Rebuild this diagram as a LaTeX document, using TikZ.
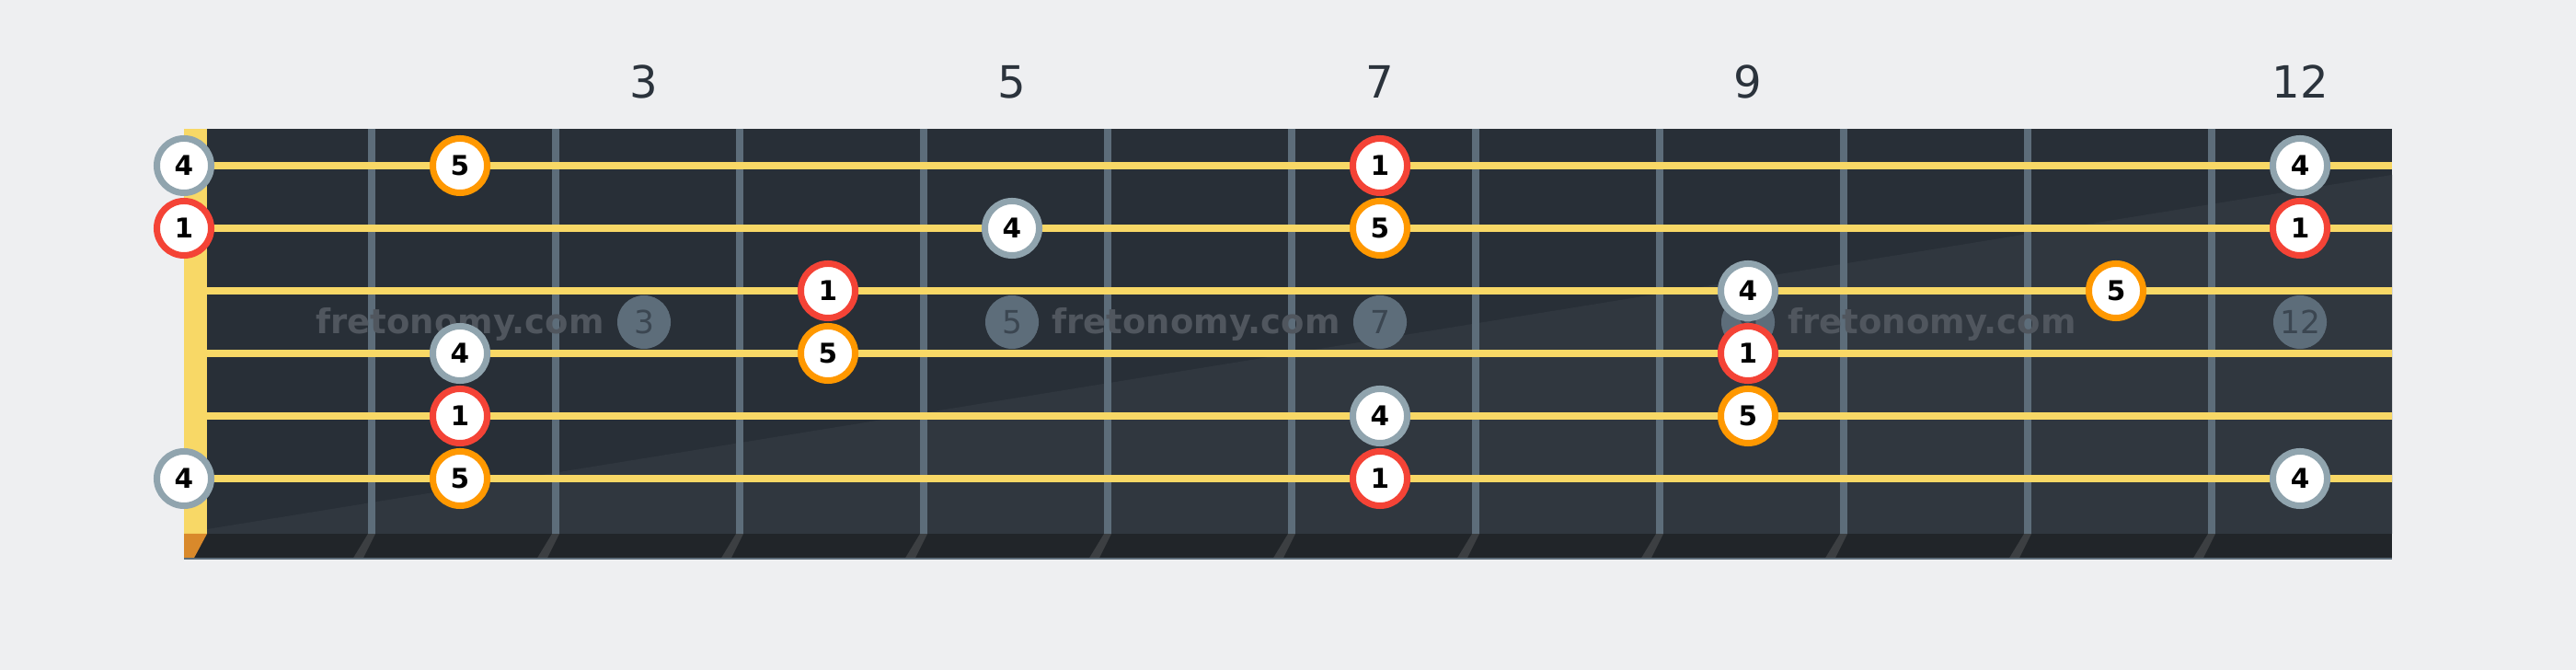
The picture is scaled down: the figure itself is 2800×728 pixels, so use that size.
\documentclass[tikz,border=0pt]{standalone}
\usepackage{fontspec}
\setmainfont{DejaVu Sans}
\usepackage{xcolor}
\usepackage{tikz}

\definecolor{bgpage}{HTML}{EEEFF1}
\definecolor{board}{HTML}{282F37}
\definecolor{boardlight}{HTML}{30373F}
\definecolor{boardedge}{HTML}{212529}
\definecolor{fretcol}{HTML}{5D6D7A}
\definecolor{shadowcol}{HTML}{3C3F42}
\definecolor{stringcol}{HTML}{F8D866}
\definecolor{nutend}{HTML}{D9892B}
\definecolor{labelcol}{HTML}{2B333C}
\definecolor{marktext}{HTML}{3B4651}
\definecolor{watercol}{HTML}{50565E}
\definecolor{rootcol}{HTML}{F44336}
\definecolor{fifthcol}{HTML}{FF9800}
\definecolor{fourthcol}{HTML}{90A4AE}

\tikzset{
	scalenote/.style={circle,draw=#1,fill=white,line width=0.07cm,minimum size=0.59cm,inner sep=0pt,
		font=\bfseries\fontsize{8.4}{9}\selectfont},
	inlay/.style={circle,fill=fretcol,minimum size=0.58cm,inner sep=0pt,text=marktext,
		font=\fontsize{9.8}{11}\selectfont},
	fretnum/.style={text=labelcol,inner sep=0pt,font=\fontsize{13.7}{16}\selectfont},
	watermark/.style={text=watercol,anchor=base,inner sep=0pt,font=\bfseries\fontsize{10.5}{12}\selectfont},
	fretwire/.style={fretcol,line width=0.08cm},
	guitarstring/.style={stringcol,line width=0.08cm}
}

\begin{document}
\begin{tikzpicture}[x=0.01cm,y=-0.01cm]
		\fill[bgpage] (0,0) rectangle (2800,728);
		\useasboundingbox (0,0) rectangle (2800,728);
		%
		% board, shading and nut
		\fill[board] (200,140) rectangle (2600,580);
		\fill[boardlight] (225,575) -- (2600,190) -- (2600,580) -- (225,580) -- cycle;
		\fill[stringcol] (200,140) rectangle (225,580);
		\fill[boardedge] (200,580) rectangle (2600,608);
		\fill[nutend] (200,580) -- (225,580) -- (210,608) -- (200,608) -- cycle;
		\fill[shadowcol] (400,580) -- (408,580) -- (394,608) -- (383,608) -- cycle
			(600,580) -- (608,580) -- (594,608) -- (583,608) -- cycle
			(800,580) -- (808,580) -- (794,608) -- (783,608) -- cycle
			(1000,580) -- (1008,580) -- (994,608) -- (983,608) -- cycle
			(1200,580) -- (1208,580) -- (1194,608) -- (1183,608) -- cycle
			(1400,580) -- (1408,580) -- (1394,608) -- (1383,608) -- cycle
			(1600,580) -- (1608,580) -- (1594,608) -- (1583,608) -- cycle
			(1800,580) -- (1808,580) -- (1794,608) -- (1783,608) -- cycle
			(2000,580) -- (2008,580) -- (1994,608) -- (1983,608) -- cycle
			(2200,580) -- (2208,580) -- (2194,608) -- (2183,608) -- cycle
			(2400,580) -- (2408,580) -- (2394,608) -- (2383,608) -- cycle;
		\draw[fretcol,line width=0.02cm] (200,607) -- (2600,607);
		%
		% frets
		\draw[fretwire] (404,140) -- (404,580) (604,140) -- (604,580) (804,140) -- (804,580)
			(1004,140) -- (1004,580) (1204,140) -- (1204,580) (1404,140) -- (1404,580)
			(1604,140) -- (1604,580) (1804,140) -- (1804,580) (2004,140) -- (2004,580)
			(2204,140) -- (2204,580) (2404,140) -- (2404,580);
		%
		% inlays and watermark
		\node[inlay] (dot3) at (700,350) {3};
		\node[inlay] (dot5) at (1100,350) {5};
		\node[inlay] (dot7) at (1500,350) {7};
		\node[inlay] (dot9) at (1900,350) {9};
		\node[inlay] (dot12) at (2500,350) {12};
		\node[watermark] (wmA) at (500,363) {fretonomy.com};
		\node[watermark] (wmB) at (1300,363) {fretonomy.com};
		\node[watermark] (wmC) at (2100,363) {fretonomy.com};
		%
		% strings
		\draw[guitarstring] (225,180) -- (2600,180) (225,248) -- (2600,248) (225,316) -- (2600,316)
			(225,384) -- (2600,384) (225,452) -- (2600,452) (225,520) -- (2600,520);
		%
		% fret numbers
		\node[fretnum] (num3) at (700,89) {3};
		\node[fretnum] (num5) at (1100,89) {5};
		\node[fretnum] (num7) at (1500,89) {7};
		\node[fretnum] (num9) at (1900,89) {9};
		\node[fretnum] (num12) at (2500,89) {12};
		%
		% scale notes
		\node[scalenote=fourthcol] (s1f0) at (200,180) {4};
		\node[scalenote=fifthcol] (s1f2) at (500,180) {5};
		\node[scalenote=rootcol] (s1f7) at (1500,180) {1};
		\node[scalenote=fourthcol] (s1f12) at (2500,180) {4};
		\node[scalenote=rootcol] (s2f0) at (200,248) {1};
		\node[scalenote=fourthcol] (s2f5) at (1100,248) {4};
		\node[scalenote=fifthcol] (s2f7) at (1500,248) {5};
		\node[scalenote=rootcol] (s2f12) at (2500,248) {1};
		\node[scalenote=rootcol] (s3f4) at (900,316) {1};
		\node[scalenote=fourthcol] (s3f9) at (1900,316) {4};
		\node[scalenote=fifthcol] (s3f11) at (2300,316) {5};
		\node[scalenote=fourthcol] (s4f2) at (500,384) {4};
		\node[scalenote=fifthcol] (s4f4) at (900,384) {5};
		\node[scalenote=rootcol] (s4f9) at (1900,384) {1};
		\node[scalenote=rootcol] (s5f2) at (500,452) {1};
		\node[scalenote=fourthcol] (s5f7) at (1500,452) {4};
		\node[scalenote=fifthcol] (s5f9) at (1900,452) {5};
		\node[scalenote=fourthcol] (s6f0) at (200,520) {4};
		\node[scalenote=fifthcol] (s6f2) at (500,520) {5};
		\node[scalenote=rootcol] (s6f7) at (1500,520) {1};
		\node[scalenote=fourthcol] (s6f12) at (2500,520) {4};
	\end{tikzpicture}
\end{document}
